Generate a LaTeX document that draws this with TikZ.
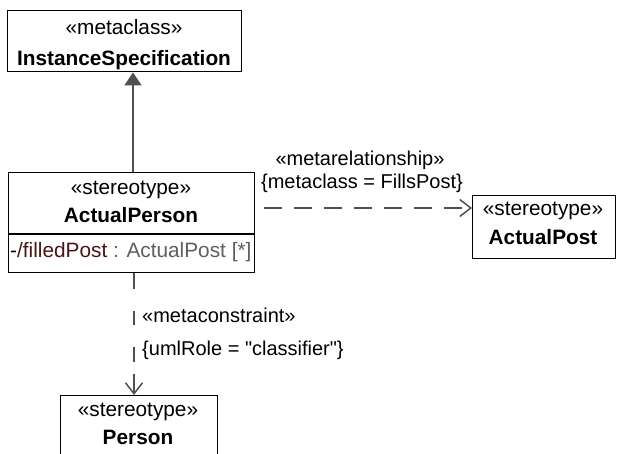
\documentclass[tikz,border=0pt]{standalone}
\usepackage{fontspec}
\setmainfont{Liberation Sans}[Ligatures=TeXOff]
\usetikzlibrary{arrows.meta}
\definecolor{connc}{HTML}{505050}
\definecolor{attrname}{HTML}{4A1515}
\definecolor{attrtype}{HTML}{5E5E5E}
\begin{document}
\begin{tikzpicture}[x=1pt,y=-1pt,
  umlbox/.style={draw=black,line width=1.4pt,inner sep=0pt,anchor=north west},
  txt/.style={anchor=base,inner sep=0pt,font=\fontsize{20.8}{24}\selectfont},
  btxt/.style={anchor=base,inner sep=0pt,font=\fontsize{20.8}{24}\selectfont\bfseries},
  lbl/.style={inner sep=0pt,font=\fontsize{20}{24}\selectfont},
  conn/.style={draw=connc,line width=1.5pt},
  dep/.style={conn,-{Straight Barb[length=11pt,width=17pt,line width=1.5pt]}},
]
\useasboundingbox (0,0) rectangle (621,454);

% boxes
\node[umlbox,minimum width=234pt,minimum height=61pt] (IS) at (7,10) {};
\node[umlbox,minimum width=246pt,minimum height=100pt] (AP) at (8,172) {};
\node[umlbox,minimum width=143pt,minimum height=63pt] (APo) at (472,195) {};
\node[umlbox,minimum width=157pt,minimum height=75pt] (PS) at (60,395) {};

% helper coordinates
\coordinate (divy) at (0,234);
\coordinate (gx) at (133,0);
\coordinate (dx) at (134,0);
\coordinate (hy) at (0,208);

% texts
\node[txt]  (ISst) at (124,35) {«metaclass»};
\node[btxt] (ISnm) at (124,66) {InstanceSpecification};
\node[txt]  (APst) at (131,195) {«stereotype»};
\node[btxt] (APnm) at (131,223) {ActualPerson};
\draw[black,line width=1.4pt] (AP.west |- divy) -- (AP.east |- divy);
\node[anchor=base west,inner sep=0pt,font=\fontsize{20.8}{24}\selectfont] (attr) at (10,258)
  {-\textcolor{attrname}{/filledPost} \textcolor{attrtype}{: ActualPost [*]}};
\node[txt]  (AQst) at (543,216) {«stereotype»};
\node[btxt] (AQnm) at (543,245) {ActualPost};
\node[txt]  (PSst) at (138,416) {«stereotype»};
\node[btxt] (PSnm) at (138,444) {Person};

% generalization
\draw[conn,-{Triangle[length=13pt,width=17pt]}] (AP.north -| gx) -- (IS.south -| gx);

% metarelationship dependency
\draw[dep,dash pattern=on 18pt off 12pt,shorten <=9pt] (AP.east |- hy) -- (APo.west |- hy);
\node[lbl,anchor=base] (mrel) at (360,166) {«metarelationship»};
\node[lbl,anchor=base] (mrelc) at (362,189) {\{metaclass = FillsPost\}};

% metaconstraint dependency
\draw[dep,dash pattern=on 16pt off 22pt on 14pt off 22pt on 15pt off 12pt on 40pt] (AP.south -| dx) -- (PS.north -| dx);
\node[lbl,anchor=base west] (mcon) at (142,323) {«metaconstraint»};
\node[lbl,anchor=base west] (mconc) at (142,355) {\{umlRole = "classifier"\}};
\end{tikzpicture}
\end{document}
